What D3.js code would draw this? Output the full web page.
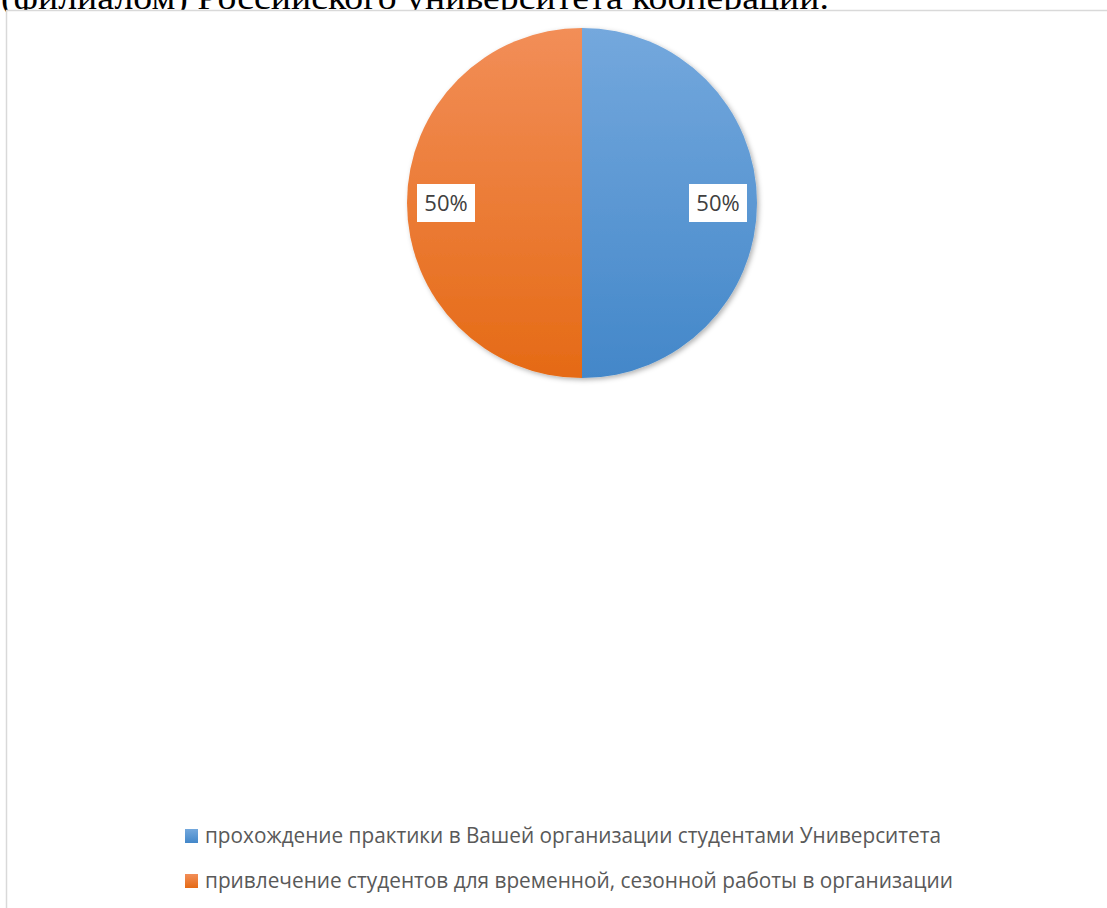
<!DOCTYPE html>
<html>
<head>
<meta charset="utf-8">
<script src="https://cdn.jsdelivr.net/npm/d3@7"></script>
<style>
  body { margin: 0; background: #fff; }
  svg { display: block; }
</style>
</head>
<body>
<script>
// data
var categories = [
    "прохождение практики в Вашей организации студентами Университета",
    "привлечение студентов для временной, сезонной работы в организации"
]
var values = [50, 50]
var labels = ["50%", "50%"]
var colorsTop = ["#74a8dd", "#f28e58"]
var colorsBottom = ["#4387c9", "#e56a15"]
var heading = "(филиалом) Российского университета кооперации."

var w = 1107
var h = 908

var svg = d3.select("body")
            .append("svg")
            .attr("width", w)
            .attr("height", h)

var defs = svg.append("defs")

var cx = 582, cy = 203, r = 175

// gradients, relative to the pie centre
categories.forEach(function(c, i) {
    var g = defs.append("linearGradient")
        .attr("id", "grad" + i)
        .attr("gradientUnits", "userSpaceOnUse")
        .attr("x1", 0).attr("y1", -r)
        .attr("x2", 0).attr("y2", r)
    g.append("stop").attr("offset", 0).attr("stop-color", colorsTop[i])
    g.append("stop").attr("offset", 1).attr("stop-color", colorsBottom[i])

    var lg = defs.append("linearGradient")
        .attr("id", "lgrad" + i)
        .attr("x1", 0).attr("y1", 0)
        .attr("x2", 0).attr("y2", 1)
    lg.append("stop").attr("offset", 0).attr("stop-color", colorsTop[i])
    lg.append("stop").attr("offset", 1).attr("stop-color", colorsBottom[i])
})

var shadow = defs.append("filter")
    .attr("id", "shadow")
    .attr("x", "-10%").attr("y", "-10%")
    .attr("width", "130%").attr("height", "130%")
shadow.append("feDropShadow")
    .attr("dx", 2).attr("dy", 2)
    .attr("stdDeviation", 2.5)
    .attr("flood-color", "#000")
    .attr("flood-opacity", 0.3)

// heading text above, partly hidden by the chart box
svg.append("text")
    .attr("x", 1)
    .attr("y", 9)
    .attr("font-family", "Liberation Serif, Times New Roman, serif")
    .attr("font-size", 34)
    .attr("fill", "#000")
    .attr("textLength", 828)
    .attr("lengthAdjust", "spacingAndGlyphs")
    .text(heading)

// chart area border
svg.append("rect")
    .attr("x", 6.5)
    .attr("y", 10.5)
    .attr("width", w + 20)
    .attr("height", h + 20)
    .attr("fill", "#fff")
    .attr("stroke", "#d9d9d9")
    .attr("stroke-width", 1.5)

var pie = d3.pie().sort(null)
var arcs = pie(values)

var arc = d3.arc().innerRadius(0).outerRadius(r)
var labelArc = d3.arc().innerRadius(136).outerRadius(136)

var g = svg.append("g")
    .attr("transform", "translate(" + cx + "," + cy + ")")

g.append("g")
    .attr("filter", "url(#shadow)")
    .selectAll("path")
    .data(arcs)
    .enter()
    .append("path")
    .attr("d", arc)
    .attr("fill", (d, i) => "url(#grad" + i + ")")

var lab = g.selectAll(".lab")
    .data(arcs)
    .enter()
    .append("g")
    .attr("class", "lab")
    .attr("transform", d => "translate(" + labelArc.centroid(d) + ")")

lab.append("rect")
    .attr("x", -29).attr("y", -19)
    .attr("width", 58).attr("height", 38)
    .attr("fill", "#fff")

lab.append("text")
    .attr("text-anchor", "middle")
    .attr("y", 8)
    .attr("font-family", "Open Sans, sans-serif")
    .attr("font-size", 22)
    .attr("fill", "#404040")
    .text((d, i) => labels[i])

// legend
var legendY = [843, 888]
var legendLen = [736, 748]

var leg = svg.selectAll(".leg")
    .data(categories)
    .enter()
    .append("g")
    .attr("class", "leg")
    .attr("transform", (d, i) => "translate(185," + legendY[i] + ")")

leg.append("rect")
    .attr("x", 0).attr("y", -14)
    .attr("width", 13).attr("height", 14)
    .attr("fill", (d, i) => "url(#lgrad" + i + ")")

leg.append("text")
    .attr("x", 20)
    .attr("y", 0)
    .attr("font-family", "Open Sans, sans-serif")
    .attr("font-size", 22)
    .attr("fill", "#595959")
    .attr("textLength", (d, i) => legendLen[i])
    .attr("lengthAdjust", "spacingAndGlyphs")
    .text(d => d)
</script>
</body>
</html>
